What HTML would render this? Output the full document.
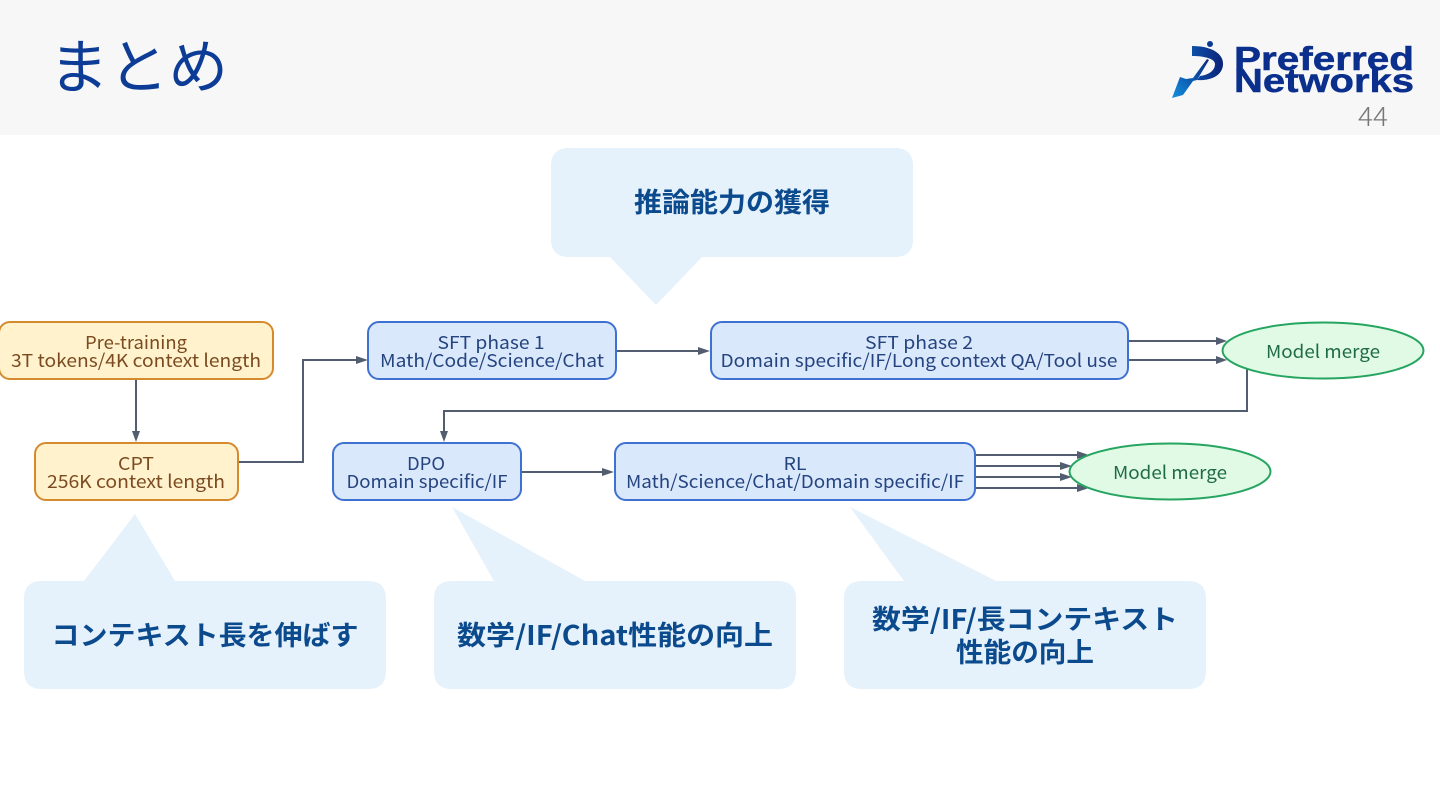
<!DOCTYPE html>
<html lang="ja">
<head>
<meta charset="utf-8">
<title>まとめ</title>
<style>
html,body{margin:0;padding:0;width:1440px;height:810px;overflow:hidden;background:#fff}
svg{display:block}
text{font-family:"Noto Sans CJK JP","Liberation Sans",sans-serif}
.n{font-size:18px;text-anchor:middle;font-weight:400}
.o{fill:#7b4a20}.b{fill:#24437f}.g{fill:#1f6b45}
.c{font-weight:700;font-size:27px;fill:#0b4a8c;text-anchor:middle}
.l{fill:none;stroke:#525d70;stroke-width:2}
.a{fill:#525d70}
.logo{font-family:"Liberation Sans",sans-serif;font-size:33px;font-weight:700;fill:#0b2f8c;stroke:#0b2f8c;stroke-width:.5}
</style>
</head>
<body>
<svg width="1440" height="810" viewBox="0 0 1440 810" xmlns="http://www.w3.org/2000/svg">
<defs>
<linearGradient id="lg" x1="0" y1="1" x2="1" y2="0"><stop offset="0" stop-color="#1592dc"/><stop offset=".5" stop-color="#0b58b0"/><stop offset="1" stop-color="#0b2a80"/></linearGradient>
<linearGradient id="lh" x1="0" y1="0" x2="1" y2="0"><stop offset="0" stop-color="#0f4fa8"/><stop offset="1" stop-color="#0b2478"/></linearGradient>
</defs>
<rect width="1440" height="810" fill="#fff"/>
<rect width="1440" height="135" fill="#f7f7f7"/>
<text x="49" y="88" style="font-size:59px;font-weight:400" fill="#0d3c96" textLength="179" lengthAdjust="spacingAndGlyphs">まとめ</text>

<!-- logo -->
<circle cx="1210" cy="44" r="3" fill="#0b3a94"/>
<path d="M1192 46 C1212 46 1224 54 1223 65 C1222 76 1210 81 1197 80 L1200 76 C1208 75 1215 71 1215 64 C1215 59 1205 56 1192 56 Z" fill="url(#lh)"/>
<path d="M1207 59 L1209 60 L1197 80 L1193 81 L1183 95 L1172 98 L1180 77 L1186 79 L1193 78 Z" fill="url(#lg)"/>
<text class="logo" x="1234" y="70" textLength="180" lengthAdjust="spacingAndGlyphs">Preferred</text>
<text class="logo" x="1234" y="92" textLength="180" lengthAdjust="spacingAndGlyphs">Networks</text>
<text x="1358" y="126" font-size="26" font-weight="300" fill="#777" textLength="30" lengthAdjust="spacingAndGlyphs">44</text>

<!-- callouts -->
<g fill="#e5f1fb">
<path d="M569 148 H895 Q913 148 913 166 V239 Q913 257 895 257 H702 L656 305 L610 257 H569 Q551 257 551 239 V166 Q551 148 569 148 Z"/>
<path d="M42 581 H84 L135 514 L175 581 H368 Q386 581 386 599 V671 Q386 689 368 689 H42 Q24 689 24 671 V599 Q24 581 42 581 Z"/>
<path d="M452 581 H494 L452 507 L585 581 H778 Q796 581 796 599 V671 Q796 689 778 689 H452 Q434 689 434 671 V599 Q434 581 452 581 Z"/>
<path d="M862 581 H904 L850 507 L996 581 H1188 Q1206 581 1206 599 V671 Q1206 689 1188 689 H862 Q844 689 844 671 V599 Q844 581 862 581 Z"/>
</g>
<text class="c" x="732" y="212" textLength="196" lengthAdjust="spacingAndGlyphs">推論能力の獲得</text>
<text class="c" x="205" y="645" textLength="307" lengthAdjust="spacingAndGlyphs">コンテキスト長を伸ばす</text>
<text class="c" x="615" y="645" textLength="316" lengthAdjust="spacingAndGlyphs">数学/IF/Chat性能の向上</text>
<text class="c" x="1025" y="629" textLength="306" lengthAdjust="spacingAndGlyphs">数学/IF/長コンテキスト</text>
<text class="c" x="1025" y="662" textLength="138" lengthAdjust="spacingAndGlyphs">性能の向上</text>

<!-- connectors -->
<path class="l" d="M136 380 V434"/>
<path class="a" d="M136 442 L132 431 H140 Z"/>
<path class="l" d="M239 462 H303 V360 H358"/>
<path class="a" d="M368 360 L356 356 V364 Z"/>
<path class="l" d="M617 351 H700"/>
<path class="a" d="M710 351 L698 347 V355 Z"/>
<path class="l" d="M1128 341 H1216 M1128 360 H1216"/>
<path class="a" d="M1227 341 L1216 337 V345 Z M1227 360 L1216 356 V364 Z"/>
<path class="l" d="M1247 369 V411 H444 V432"/>
<path class="a" d="M444 442 L440 431 H448 Z"/>
<path class="l" d="M521 472 H604"/>
<path class="a" d="M614 472 L602 468 V476 Z"/>
<path class="l" d="M975 455 H1078 M975 466 H1060 M975 477 H1060 M975 488 H1078"/>
<path class="a" d="M1089 455 L1077 451 V459 Z M1072 466 L1060 462 V470 Z M1072 477 L1060 473 V481 Z M1089 488 L1077 484 V492 Z"/>

<!-- nodes -->
<g stroke-width="2">
<rect x="-1" y="322" width="274" height="57" rx="11" fill="#fff2cc" stroke="#d68a2e"/>
<rect x="35" y="443" width="203" height="57" rx="11" fill="#fff2cc" stroke="#d68a2e"/>
<rect x="368" y="322" width="248" height="57" rx="11" fill="#dae8fc" stroke="#3f71d0"/>
<rect x="711" y="322" width="417" height="57" rx="11" fill="#dae8fc" stroke="#3f71d0"/>
<rect x="333" y="443" width="188" height="57" rx="11" fill="#dae8fc" stroke="#3f71d0"/>
<rect x="615" y="443" width="360" height="57" rx="11" fill="#dae8fc" stroke="#3f71d0"/>
<ellipse cx="1323" cy="350.500" rx="100.500" ry="28" fill="#e0fae6" stroke="#25a55f"/>
<ellipse cx="1170" cy="471.500" rx="100.500" ry="28" fill="#e0fae6" stroke="#25a55f"/>
</g>

<text class="n o" x="136" y="349" textLength="102" lengthAdjust="spacingAndGlyphs">Pre-training</text>
<text class="n o" x="136" y="367" textLength="250" lengthAdjust="spacingAndGlyphs">3T tokens/4K context length</text>
<text class="n o" x="136" y="470" textLength="36" lengthAdjust="spacingAndGlyphs">CPT</text>
<text class="n o" x="136" y="488" textLength="178" lengthAdjust="spacingAndGlyphs">256K context length</text>
<text class="n b" x="491" y="349" textLength="107" lengthAdjust="spacingAndGlyphs">SFT phase 1</text>
<text class="n b" x="492" y="367" textLength="224" lengthAdjust="spacingAndGlyphs">Math/Code/Science/Chat</text>
<text class="n b" x="919" y="349" textLength="108" lengthAdjust="spacingAndGlyphs">SFT phase 2</text>
<text class="n b" x="919" y="367" textLength="397" lengthAdjust="spacingAndGlyphs">Domain specific/IF/Long context QA/Tool use</text>
<text class="n b" x="426" y="470" textLength="38" lengthAdjust="spacingAndGlyphs">DPO</text>
<text class="n b" x="427" y="488" textLength="161" lengthAdjust="spacingAndGlyphs">Domain specific/IF</text>
<text class="n b" x="795" y="470" textLength="23" lengthAdjust="spacingAndGlyphs">RL</text>
<text class="n b" x="795" y="488" textLength="338" lengthAdjust="spacingAndGlyphs">Math/Science/Chat/Domain specific/IF</text>
<text class="n g" x="1323" y="358" textLength="114" lengthAdjust="spacingAndGlyphs">Model merge</text>
<text class="n g" x="1170" y="479" textLength="114" lengthAdjust="spacingAndGlyphs">Model merge</text>
</svg>
</body>
</html>
